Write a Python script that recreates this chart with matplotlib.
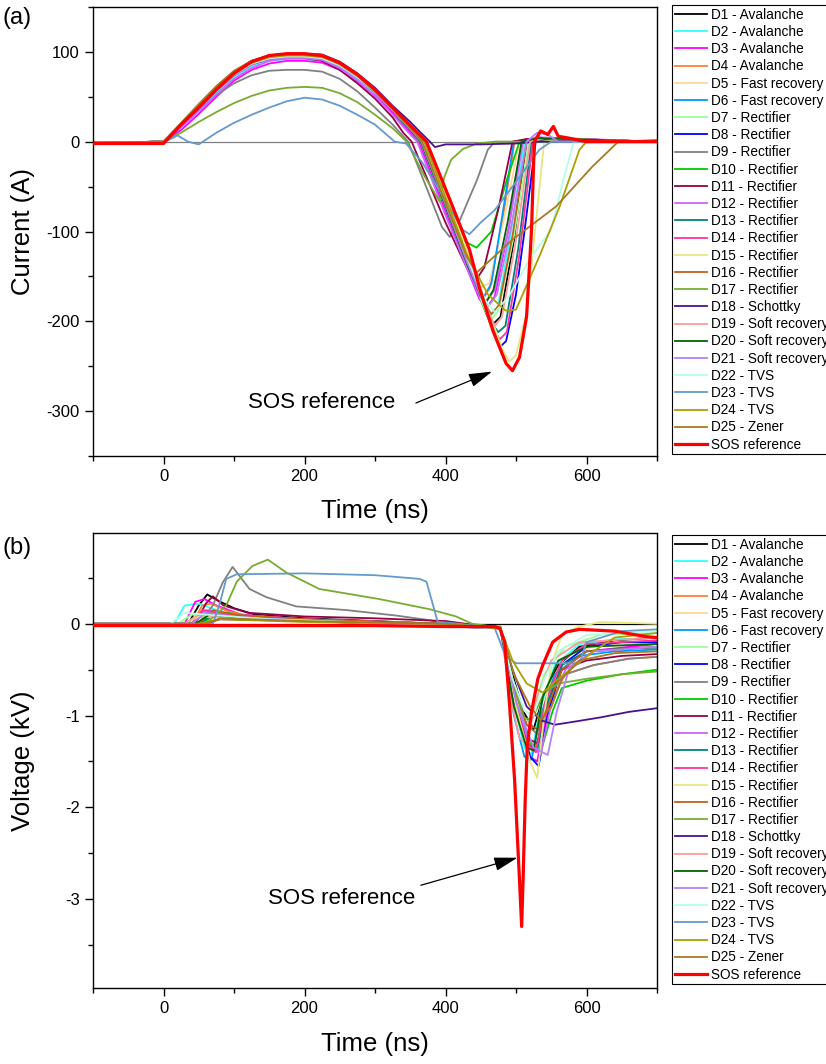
import matplotlib
matplotlib.use("Agg")
import matplotlib.pyplot as plt
from matplotlib.ticker import MultipleLocator

plt.rcParams['font.family'] = ['Liberation Sans', 'DejaVu Sans']
plt.rcParams['axes.unicode_minus'] = False

LABELS = ["D1 - Avalanche", "D2 - Avalanche", "D3 - Avalanche", "D4 - Avalanche",
          "D5 - Fast recovery", "D6 - Fast recovery", "D7 - Rectifier", "D8 - Rectifier",
          "D9 - Rectifier", "D10 - Rectifier", "D11 - Rectifier", "D12 - Rectifier",
          "D13 - Rectifier", "D14 - Rectifier", "D15 - Rectifier", "D16 - Rectifier",
          "D17 - Rectifier", "D18 - Schottky", "D19 - Soft recovery", "D20 - Soft recovery",
          "D21 - Soft recovery", "D22 - TVS", "D23 - TVS", "D24 - TVS", "D25 - Zener",
          "SOS reference"]
COLORS = ["#000000", "#33FFFF", "#FF00FF", "#FF8033", "#FFD699", "#0099FF", "#99FF99",
          "#0000FF", "#808080", "#00CC00", "#990044", "#CC66FF", "#008080", "#FF3399",
          "#E6E680", "#C0601A", "#77AC30", "#4B1090", "#FF9999", "#006600", "#B380FF",
          "#B3FFE6", "#6699CC", "#AAA000", "#A87A20", "#FF0000"]

# ---------------- Panel (a): current (A) vs time (ns) ----------------
D1_I_T = [-100, 0, 25, 50, 75, 100, 125, 150, 175, 200, 225, 250, 275, 300, 325, 350, 366, 400, 430, 452, 465, 478, 497, 515, 530, 560, 700]
D1_I = [-1, 0, 20, 40, 60, 77, 89, 95, 97, 97, 94, 85, 71, 55, 35, 14, 0, -70, -133, -180, -205, -195, -110, 0, 5, 2, 0]
D2_I_T = [-100, 0, 25, 50, 75, 100, 125, 150, 175, 200, 225, 250, 275, 300, 325, 350, 366, 400, 430, 450, 462, 474, 492, 512, 530, 700]
D2_I = [-1, 0, 17, 36, 55, 72, 84, 90, 92, 92, 90, 83, 70, 54, 35, 14, 0, -70, -133, -175, -195, -185, -105, 0, 4, 0]
D3_I_T = [-100, 0, 25, 50, 75, 100, 125, 150, 175, 200, 225, 250, 275, 300, 325, 350, 362, 400, 430, 448, 458, 470, 490, 508, 530, 700]
D3_I = [-1, 0, 13, 31, 50, 68, 80, 87, 90, 90, 88, 80, 67, 51, 32, 10, 0, -78, -140, -175, -185, -172, -95, 0, 4, 0]
D4_I_T = [-100, 0, 25, 50, 75, 100, 125, 150, 175, 200, 225, 250, 275, 300, 325, 350, 365, 400, 430, 445, 453, 463, 480, 498, 520, 700]
D4_I = [-1, 0, 20, 40, 60, 77, 89, 95, 97, 97, 94, 85, 72, 55, 35, 13, 0, -72, -135, -165, -175, -163, -92, 0, 3, 0]
D5_I_T = [-100, 0, 25, 50, 75, 100, 125, 150, 175, 200, 225, 250, 275, 300, 325, 350, 365, 400, 430, 447, 462, 482, 505, 525, 700]
D5_I = [-1, 0, 19, 39, 59, 76, 88, 94, 96, 96, 94, 85, 72, 55, 35, 13, 0, -72, -135, -163, -158, -90, 0, 3, 0]
D6_I_T = [-100, 0, 25, 50, 75, 100, 125, 150, 175, 200, 225, 250, 275, 300, 325, 350, 365, 400, 430, 446, 455, 465, 480, 497, 520, 700]
D6_I = [-1, 0, 19, 39, 59, 76, 88, 94, 96, 96, 94, 85, 72, 55, 35, 13, 0, -72, -135, -165, -172, -158, -85, 0, 3, 0]
D7_I_T = [-100, 0, 25, 50, 75, 100, 125, 150, 175, 200, 225, 250, 275, 300, 325, 350, 367, 400, 430, 452, 463, 475, 497, 518, 535, 700]
D7_I = [-1, 0, 19, 38, 58, 75, 87, 93, 95, 95, 93, 85, 72, 56, 36, 15, 0, -68, -132, -180, -200, -188, -105, 0, 4, 0]
D8_I_T = [-100, 0, 25, 50, 75, 100, 125, 150, 175, 200, 225, 250, 275, 300, 325, 350, 368, 400, 430, 455, 470, 478, 486, 500, 512, 528, 545, 700]
D8_I = [-1, 0, 20, 40, 60, 77, 89, 95, 97, 97, 95, 86, 73, 57, 37, 16, 0, -66, -128, -180, -215, -228, -222, -170, -100, 0, 4, 0]
D9_I_T = [-100, 0, 25, 50, 75, 100, 125, 150, 175, 200, 225, 250, 275, 300, 325, 347, 375, 395, 406, 420, 445, 460, 470, 700]
D9_I = [-1, 0, 17, 35, 52, 65, 74, 79, 80, 80, 78, 70, 56, 38, 19, 0, -55, -95, -106, -88, -42, -9, 0, 0]
D10_I_T = [-100, 0, 25, 50, 75, 100, 125, 150, 175, 200, 225, 250, 275, 300, 325, 350, 367, 400, 425, 444, 465, 488, 505, 700]
D10_I = [-1, 0, 19, 39, 59, 76, 88, 94, 96, 96, 94, 85, 72, 56, 36, 15, 0, -68, -110, -118, -100, -40, 0, 0]
D11_I_T = [-100, 0, 25, 50, 75, 100, 125, 150, 175, 200, 225, 250, 275, 300, 325, 340, 352, 400, 430, 445, 455, 475, 495, 515, 700]
D11_I = [-1, 0, 19, 38, 57, 74, 86, 92, 93, 93, 90, 80, 65, 48, 27, 10, 0, -90, -140, -152, -140, -75, 0, 3, 0]
D12_I_T = [-100, 0, 25, 50, 75, 100, 125, 150, 175, 200, 225, 250, 275, 300, 325, 350, 360, 400, 430, 448, 458, 470, 490, 510, 530, 700]
D12_I = [-1, 0, 16, 34, 53, 70, 82, 90, 93, 93, 91, 82, 68, 51, 30, 8, 0, -82, -140, -172, -178, -165, -95, 0, 5, 0]
D13_I_T = [-100, 0, 25, 50, 75, 100, 125, 150, 175, 200, 225, 250, 275, 300, 325, 350, 368, 400, 430, 455, 468, 475, 485, 503, 522, 540, 700]
D13_I = [-1, 0, 19, 39, 59, 76, 88, 94, 96, 96, 94, 86, 73, 57, 37, 16, 0, -66, -128, -180, -205, -212, -205, -120, 0, 4, 0]
D14_I_T = [-100, 0, 25, 50, 75, 100, 125, 150, 175, 200, 225, 250, 275, 300, 325, 350, 368, 400, 430, 455, 470, 477, 487, 505, 524, 540, 700]
D14_I = [-1, 0, 19, 39, 59, 76, 88, 94, 96, 96, 94, 86, 73, 57, 37, 16, 0, -66, -128, -180, -212, -220, -212, -125, 0, 4, 0]
D15_I_T = [-100, 0, 25, 50, 75, 100, 125, 150, 175, 200, 225, 250, 275, 300, 325, 350, 372, 400, 430, 460, 480, 490, 500, 515, 540, 560, 700]
D15_I = [-1, 0, 19, 39, 59, 76, 88, 94, 96, 96, 94, 87, 74, 58, 38, 18, 0, -58, -120, -185, -230, -245, -238, -190, 0, 3, 0]
D16_I_T = [-100, 0, 25, 50, 75, 100, 125, 150, 175, 200, 225, 250, 275, 300, 325, 350, 367, 400, 430, 455, 465, 476, 495, 515, 535, 700]
D16_I = [-1, 0, 20, 40, 61, 78, 90, 96, 98, 98, 96, 87, 73, 56, 36, 15, 0, -68, -132, -180, -192, -182, -105, 0, 4, 0]
D17_I_T = [-100, 0, 25, 50, 75, 100, 125, 150, 175, 200, 225, 250, 275, 300, 325, 345, 370, 392, 398, 408, 425, 445, 470, 700]
D17_I = [-1, 0, 10, 22, 33, 43, 51, 57, 60, 61, 60, 54, 44, 30, 15, 0, -38, -67, -40, -20, -8, -2, 0, 0]
D18_I_T = [-100, 0, 25, 50, 75, 100, 125, 150, 175, 200, 225, 250, 275, 300, 325, 350, 365, 378, 385, 400, 450, 500, 530, 700]
D18_I = [-1, 0, 20, 40, 61, 78, 90, 96, 98, 98, 97, 89, 76, 60, 40, 22, 10, 0, -6, -3, -3, -2, 0, 0]
D19_I_T = [-100, 0, 25, 50, 75, 100, 125, 150, 175, 200, 225, 250, 275, 300, 325, 350, 368, 400, 430, 455, 470, 480, 500, 520, 540, 700]
D19_I = [-1, 0, 19, 39, 59, 76, 88, 94, 96, 96, 94, 86, 73, 57, 37, 16, 0, -66, -128, -180, -205, -195, -110, 0, 4, 0]
D20_I_T = [-100, 0, 25, 50, 75, 100, 125, 150, 175, 200, 225, 250, 275, 300, 325, 350, 365, 400, 430, 450, 458, 468, 488, 508, 530, 700]
D20_I = [-1, 0, 19, 39, 59, 76, 88, 94, 96, 96, 94, 85, 72, 55, 35, 13, 0, -72, -135, -172, -178, -165, -90, 0, 4, 0]
D21_I_T = [-100, 0, 25, 50, 75, 100, 125, 150, 175, 200, 225, 250, 275, 300, 325, 350, 366, 400, 430, 452, 462, 473, 493, 515, 530, 545, 560, 700]
D21_I = [-1, 0, 18, 37, 57, 74, 86, 92, 94, 94, 92, 84, 71, 55, 35, 14, 0, -70, -133, -175, -182, -170, -95, 0, 10, 8, 0, 0]
D22_I_T = [-100, 0, 25, 50, 75, 100, 125, 150, 175, 200, 225, 250, 275, 300, 325, 350, 368, 400, 430, 455, 470, 490, 520, 550, 568, 582, 700]
D22_I = [-1, 0, 19, 38, 58, 75, 87, 93, 95, 95, 93, 85, 72, 56, 36, 15, 0, -66, -128, -175, -190, -172, -130, -98, -40, 0, 0]
D23_I_T = [-100, 0, 10, 20, 35, 50, 75, 100, 125, 150, 175, 200, 225, 250, 275, 300, 328, 344, 367, 400, 424, 434, 450, 470, 495, 533, 550, 700]
D23_I = [-1, 0, 3, 7, 0, -3, 10, 21, 30, 38, 45, 49, 47, 40, 30, 19, 0, -2, -23, -65, -98, -103, -90, -76, -50, -9, 0, 0]
D24_I_T = [-100, 0, 25, 50, 75, 100, 125, 150, 175, 200, 225, 250, 275, 300, 325, 350, 370, 400, 430, 460, 485, 500, 533, 562, 590, 600, 700]
D24_I = [-1, 0, 19, 39, 59, 76, 88, 94, 96, 96, 94, 87, 74, 57, 37, 17, 0, -62, -125, -170, -188, -187, -128, -72, -9, 0, 0]
D25_I_T = [-100, 0, 25, 50, 75, 100, 125, 150, 175, 200, 225, 250, 275, 300, 325, 350, 367, 400, 430, 444, 495, 557, 608, 645, 700]
D25_I = [-1, 0, 21, 42, 62, 79, 90, 96, 97, 97, 95, 86, 73, 56, 36, 15, 0, -68, -128, -146, -109, -72, -28, 0, 2]
SOS_I_T = [-100, 0, 25, 50, 75, 100, 125, 150, 175, 200, 225, 250, 275, 300, 325, 350, 373, 389, 410, 434, 448, 467, 486, 495, 505, 515, 522, 526, 535, 545, 553, 560, 575, 600, 700]
SOS_I = [-2, -2, 19, 38, 58, 76, 89, 96, 98, 98, 96, 88, 75, 58, 38, 18, 0, -31, -72, -120, -162, -210, -247, -255, -240, -195, -98, 0, 12, 8, 17, 6, 4, 0, 0]

# ---------------- Panel (b): voltage (kV) vs time (ns) ----------------
D1_V_T = [-100, 35, 50, 62, 78, 100, 130, 200, 300, 420, 478, 495, 510, 525, 540, 560, 590, 640, 700]
D1_V = [0, 0, 0.2, 0.32, 0.25, 0.17, 0.1, 0.06, 0.03, -0.01, -0.05, -0.55, -0.95, -1.15, -0.75, -0.45, -0.25, -0.18, -0.15]
D2_V_T = [-100, 15, 30, 50, 75, 110, 200, 350, 478, 495, 512, 522, 535, 555, 590, 640, 700]
D2_V = [0, 0, 0.2, 0.22, 0.15, 0.08, 0.04, 0.0, -0.05, -0.8, -1.35, -1.42, -0.9, -0.45, -0.22, -0.17, -0.15]
D3_V_T = [-100, 30, 45, 58, 75, 110, 200, 380, 478, 500, 520, 530, 545, 565, 600, 700]
D3_V = [0, 0, 0.24, 0.27, 0.2, 0.1, 0.05, 0.0, -0.05, -0.9, -1.45, -1.5, -0.95, -0.5, -0.3, -0.22]
D4_V_T = [-100, 40, 55, 68, 90, 130, 250, 400, 478, 498, 515, 528, 545, 570, 610, 660, 700]
D4_V = [0, 0, 0.2, 0.22, 0.14, 0.07, 0.03, 0.0, -0.05, -0.9, -1.3, -1.35, -0.9, -0.55, -0.45, -0.38, -0.36]
D5_V_T = [-100, 30, 50, 90, 200, 350, 478, 500, 515, 530, 545, 570, 620, 700]
D5_V = [0, 0, 0.1, 0.08, 0.03, 0.0, -0.05, -0.85, -1.25, -1.3, -0.7, -0.35, -0.22, -0.2]
D6_V_T = [-100, 40, 60, 100, 250, 400, 478, 497, 512, 522, 535, 555, 590, 640, 700]
D6_V = [0, 0, 0.12, 0.08, 0.03, 0.0, -0.05, -1.0, -1.45, -1.48, -1.0, -0.55, -0.35, -0.3, -0.28]
D7_V_T = [-100, 20, 40, 80, 200, 380, 478, 495, 508, 520, 540, 570, 620, 700]
D7_V = [0, 0, 0.1, 0.08, 0.03, 0.0, -0.05, -0.8, -1.1, -1.05, -0.55, -0.25, -0.12, -0.1]
D8_V_T = [-100, 50, 70, 110, 250, 400, 478, 500, 520, 532, 545, 565, 600, 650, 700]
D8_V = [0, 0, 0.1, 0.07, 0.02, 0.0, -0.05, -0.9, -1.45, -1.55, -1.0, -0.45, -0.25, -0.2, -0.2]
D9_V_T = [-100, 50, 70, 84, 98, 110, 122, 146, 188, 259, 330, 377, 400, 478, 495, 515, 530, 545, 570, 610, 660, 700]
D9_V = [0, 0, 0.2, 0.45, 0.62, 0.5, 0.38, 0.29, 0.19, 0.15, 0.09, 0.04, 0.0, -0.03, -0.6, -1.1, -1.2, -0.75, -0.55, -0.45, -0.38, -0.36]
D10_V_T = [-100, 55, 75, 90, 130, 250, 400, 478, 500, 520, 535, 552, 565, 600, 650, 700]
D10_V = [0, 0, 0.12, 0.12, 0.07, 0.03, 0.0, -0.05, -0.85, -1.3, -1.4, -0.95, -0.7, -0.62, -0.55, -0.5]
D11_V_T = [-100, 45, 60, 70, 85, 120, 200, 300, 400, 478, 498, 515, 530, 545, 565, 600, 650, 700]
D11_V = [0, 0, 0.22, 0.3, 0.2, 0.12, 0.08, 0.06, 0.03, -0.05, -0.85, -1.25, -1.3, -0.85, -0.5, -0.4, -0.35, -0.33]
D12_V_T = [-100, 40, 60, 100, 200, 400, 478, 500, 520, 535, 548, 570, 610, 700]
D12_V = [0, 0, 0.15, 0.1, 0.05, 0.0, -0.05, -0.85, -1.35, -1.42, -0.95, -0.5, -0.3, -0.25]
D13_V_T = [-100, 50, 70, 120, 250, 400, 478, 498, 515, 530, 545, 565, 600, 650, 700]
D13_V = [0, 0, 0.1, 0.06, 0.02, 0.0, -0.05, -0.85, -1.3, -1.38, -0.85, -0.45, -0.3, -0.27, -0.26]
D14_V_T = [-100, 40, 55, 90, 200, 400, 478, 497, 515, 528, 542, 565, 600, 700]
D14_V = [0, 0, 0.15, 0.1, 0.05, 0.0, -0.05, -0.8, -1.3, -1.4, -0.85, -0.4, -0.22, -0.18]
D15_V_T = [-100, 30, 50, 150, 400, 478, 500, 520, 530, 540, 550, 565, 590, 620, 700]
D15_V = [0, 0, 0.08, 0.05, 0.0, -0.05, -0.9, -1.5, -1.68, -1.0, -0.45, -0.12, -0.03, 0.02, 0.0]
D16_V_T = [-100, 50, 70, 100, 200, 400, 478, 497, 515, 532, 548, 565, 600, 700]
D16_V = [0, 0, 0.15, 0.1, 0.05, 0.0, -0.05, -0.7, -1.1, -1.15, -0.85, -0.5, -0.3, -0.25]
D17_V_T = [-100, 60, 89, 104, 126, 148, 174, 221, 306, 377, 415, 438, 478, 495, 510, 522, 540, 560, 600, 650, 700]
D17_V = [0, 0, 0.2, 0.46, 0.63, 0.7, 0.56, 0.38, 0.27, 0.16, 0.08, 0.0, -0.04, -0.6, -1.02, -1.05, -0.75, -0.65, -0.6, -0.55, -0.52]
D18_V_T = [-100, 60, 80, 200, 400, 478, 495, 515, 535, 555, 580, 620, 660, 700]
D18_V = [0, 0, 0.05, 0.03, 0.0, -0.05, -0.5, -0.9, -1.05, -1.1, -1.07, -1.02, -0.96, -0.92]
D19_V_T = [-100, 30, 50, 100, 300, 478, 492, 505, 515, 530, 550, 590, 700]
D19_V = [0, 0, 0.1, 0.06, 0.0, -0.05, -0.8, -1.25, -1.3, -0.8, -0.4, -0.2, -0.15]
D20_V_T = [-100, 45, 65, 120, 300, 478, 497, 515, 525, 538, 560, 600, 700]
D20_V = [0, 0, 0.1, 0.06, 0.0, -0.05, -0.9, -1.35, -1.38, -0.8, -0.4, -0.25, -0.22]
D21_V_T = [-100, 40, 60, 110, 300, 478, 500, 525, 545, 558, 575, 610, 700]
D21_V = [0, 0, 0.12, 0.07, 0.0, -0.05, -0.85, -1.35, -1.43, -0.95, -0.5, -0.3, -0.25]
D22_V_T = [-100, 10, 30, 60, 150, 350, 478, 495, 512, 525, 540, 560, 600, 700]
D22_V = [0, 0, 0.12, 0.1, 0.05, 0.0, -0.05, -0.6, -0.95, -1.0, -0.6, -0.3, -0.12, -0.08]
D23_V_T = [-100, 70, 79, 89, 104, 200, 300, 363, 373, 389, 420, 470, 485, 500, 590, 600, 650, 700]
D23_V = [0, 0, 0.2, 0.49, 0.54, 0.55, 0.53, 0.49, 0.46, 0.02, 0.0, -0.05, -0.35, -0.43, -0.43, -0.2, -0.08, -0.06]
D24_V_T = [-100, 50, 80, 200, 400, 478, 495, 515, 538, 560, 580, 610, 640, 700]
D24_V = [0, 0, 0.05, 0.02, 0.0, -0.05, -0.4, -0.65, -0.75, -0.6, -0.48, -0.3, -0.15, -0.1]
D25_V_T = [-100, 60, 80, 200, 400, 478, 497, 520, 535, 550, 565, 590, 640, 700]
D25_V = [0, 0, 0.06, 0.03, 0.0, -0.05, -0.55, -0.9, -1.05, -0.9, -0.6, -0.4, -0.32, -0.3]
SOS_V_T = [-100, 0, 100, 200, 300, 400, 470, 477, 484, 488, 491, 498, 505, 508, 510, 513, 516, 522, 531, 538, 552, 571, 590, 640, 685, 700]
SOS_V = [-0.02, -0.02, -0.02, -0.02, -0.02, -0.03, -0.03, -0.05, -0.2, -0.6, -0.9, -1.7, -2.8, -3.3, -2.8, -1.93, -1.33, -0.96, -0.6, -0.45, -0.2, -0.09, -0.06, -0.08, -0.14, -0.15]

CUR = [(D1_I_T, D1_I), (D2_I_T, D2_I), (D3_I_T, D3_I), (D4_I_T, D4_I), (D5_I_T, D5_I),
       (D6_I_T, D6_I), (D7_I_T, D7_I), (D8_I_T, D8_I), (D9_I_T, D9_I), (D10_I_T, D10_I),
       (D11_I_T, D11_I), (D12_I_T, D12_I), (D13_I_T, D13_I), (D14_I_T, D14_I), (D15_I_T, D15_I),
       (D16_I_T, D16_I), (D17_I_T, D17_I), (D18_I_T, D18_I), (D19_I_T, D19_I), (D20_I_T, D20_I),
       (D21_I_T, D21_I), (D22_I_T, D22_I), (D23_I_T, D23_I), (D24_I_T, D24_I), (D25_I_T, D25_I),
       (SOS_I_T, SOS_I)]
VOL = [(D1_V_T, D1_V), (D2_V_T, D2_V), (D3_V_T, D3_V), (D4_V_T, D4_V), (D5_V_T, D5_V),
       (D6_V_T, D6_V), (D7_V_T, D7_V), (D8_V_T, D8_V), (D9_V_T, D9_V), (D10_V_T, D10_V),
       (D11_V_T, D11_V), (D12_V_T, D12_V), (D13_V_T, D13_V), (D14_V_T, D14_V), (D15_V_T, D15_V),
       (D16_V_T, D16_V), (D17_V_T, D17_V), (D18_V_T, D18_V), (D19_V_T, D19_V), (D20_V_T, D20_V),
       (D21_V_T, D21_V), (D22_V_T, D22_V), (D23_V_T, D23_V), (D24_V_T, D24_V), (D25_V_T, D25_V),
       (SOS_V_T, SOS_V)]

W, H = 826, 1064
fig = plt.figure(figsize=(W / 100, H / 100), dpi=100)
L, R = 93, 657
axa = fig.add_axes([L / W, 1 - 456 / H, (R - L) / W, (456 - 7) / H])
axb = fig.add_axes([L / W, 1 - 988 / H, (R - L) / W, (988 - 533) / H])


def style(ax):
    for s in ax.spines.values():
        s.set_linewidth(1.0)
        s.set_color("black")
    ax.tick_params(which="both", direction="out", top=False, right=False,
                   labelsize=12, width=1.0, colors="black")
    ax.tick_params(which="major", length=6)
    ax.tick_params(which="minor", length=3.5)
    ax.set_xlim(-100, 700)
    ax.xaxis.set_major_locator(MultipleLocator(200))
    ax.xaxis.set_minor_locator(MultipleLocator(100))
    ax.set_xlabel("Time (ns)", fontsize=18.5)
    ax.xaxis.set_label_coords(0.5, -44 / 455)


def draw(ax, data, zero_color):
    ax.axhline(0, color=zero_color, lw=0.9, zorder=1)
    handles = []
    for (t, v), c, lab in zip(data, COLORS, LABELS):
        lw = 2.3 if lab == "SOS reference" else 1.3
        h, = ax.plot(t, v, color=c, lw=lw, label=lab, zorder=3 if lab == "SOS reference" else 2)
        handles.append(h)
    return handles


ha = draw(axa, CUR, "#808080")
style(axa)
axa.set_ylim(-350, 150)
axa.yaxis.set_major_locator(MultipleLocator(100))
axa.yaxis.set_minor_locator(MultipleLocator(50))
axa.set_ylabel("Current (A)", fontsize=18.5)
axa.yaxis.set_label_coords(-58 / 564, 0.5)

hb = draw(axb, VOL, "black")
style(axb)
axb.set_ylim(-3.97, 0.99)
axb.yaxis.set_major_locator(MultipleLocator(1))
axb.yaxis.set_minor_locator(MultipleLocator(0.5))
axb.set_ylabel("Voltage (kV)", fontsize=18.5)
axb.yaxis.set_label_coords(-58 / 564, 0.5)

arrow = dict(arrowstyle="-|>,head_length=1.2,head_width=0.35", color="black", lw=0.9,
             shrinkA=0, shrinkB=0, mutation_scale=12)
axa.annotate("", xy=(466, -256), xytext=(358, -291), arrowprops=arrow)
axa.text(224, -290, "SOS reference", fontsize=16, ha="center", va="center")
axb.annotate("", xy=(502, -2.55), xytext=(365, -2.85), arrowprops=arrow)
axb.text(252, -2.99, "SOS reference", fontsize=16, ha="center", va="center")

fig.text(2 / W, 1 - 18 / H, "(a)", fontsize=17, ha="left", va="center")
fig.text(2 / W, 1 - 548 / H, "(b)", fontsize=17, ha="left", va="center")

for handles, top in ((ha, 5), (hb, 535)):
    leg = fig.legend(handles=handles, labels=LABELS, loc="upper left",
                     bbox_to_anchor=(672 / W, 1 - top / H), fontsize=9.8,
                     frameon=True, fancybox=False, shadow=False, framealpha=1,
                     edgecolor="black", borderpad=0.2, labelspacing=0.235,
                     handlelength=2.4, handletextpad=0.25, borderaxespad=0)
    leg.get_frame().set_linewidth(0.8)

fig.savefig("out.png", dpi=100)
